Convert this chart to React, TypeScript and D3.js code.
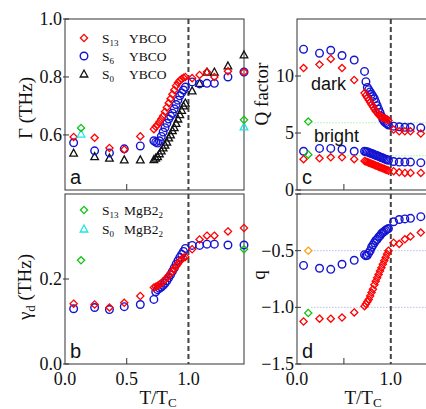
import React from "react"
import * as d3 from "d3"

// temperature grids (T/Tc)
const tLow = [0.07, 0.24, 0.36, 0.48, 0.61]
const tDense = [0.72, 0.735, 0.75, 0.765, 0.78, 0.795, 0.81, 0.825, 0.84, 0.855, 0.87, 0.885, 0.9, 0.915, 0.93, 0.945, 0.96, 0.975]
const tHigh = [1.03, 1.09, 1.15, 1.21, 1.32, 1.45]
const tMgLow = 0.13
const tMgHigh = 1.45

// panel a: Gamma (THz)
const gamS13 = [0.593, 0.59, 0.555, 0.55, 0.595,
  0.62, 0.628, 0.635, 0.645, 0.655, 0.665, 0.68, 0.695, 0.71, 0.725, 0.74, 0.755, 0.77, 0.78, 0.788, 0.793, 0.797, 0.8,
  0.796, 0.807, 0.817, 0.8, 0.82, 0.817]
const gamS6 = [0.573, 0.545, 0.538, 0.552, 0.562,
  0.58, 0.575, 0.572, 0.58, 0.595, 0.61, 0.625, 0.64, 0.655, 0.665, 0.675, 0.69, 0.705, 0.72, 0.735, 0.745, 0.755, 0.765,
  0.783, 0.776, 0.778, 0.778, 0.8, 0.817]
const gamS0 = [0.537, 0.525, 0.52, 0.514, 0.514,
  0.515, 0.52, 0.525, 0.535, 0.545, 0.555, 0.565, 0.575, 0.59, 0.6, 0.615, 0.625, 0.64, 0.655, 0.67, 0.685, 0.7, 0.71,
  0.752, 0.778, 0.817, 0.817, 0.838, 0.876]
const gamMgS13 = [0.624, 0.652]
const gamMgS0 = [0.603, 0.628]

// panel b: gamma_d (THz)
const gdS13 = [0.142, 0.14, 0.133, 0.144, 0.16,
  0.18, 0.182, 0.184, 0.187, 0.19, 0.194, 0.198, 0.203, 0.208, 0.213, 0.218, 0.224, 0.23, 0.236, 0.242, 0.247, 0.25, 0.252,
  0.27, 0.293, 0.302, 0.302, 0.312, 0.32]
const gdS6 = [0.13, 0.133, 0.128, 0.135, 0.14,
  0.152, 0.17, 0.175, 0.178, 0.181, 0.185, 0.19, 0.196, 0.203, 0.21, 0.218, 0.226, 0.235, 0.243, 0.251, 0.258, 0.265, 0.272,
  0.279, 0.279, 0.282, 0.282, 0.28, 0.28]
const gdMgS13 = [0.244, 0.27]

// panel c: Q factor
const qDarkS6 = [12.35, 12.0, 12.26, 11.8, 11.4,
  10.4, 9.5, 9.0, 8.8, 8.6, 8.4, 8.2, 8.0, 7.7, 7.4, 7.1, 6.8, 6.5, 6.2, 6.0, 5.9, 5.8, 5.7,
  5.6, 5.55, 5.5, 5.5, 5.45, 5.4]
const qDarkS13 = [10.7, 11.0, 11.5, 10.7, 9.65,
  8.5, 8.3, 8.1, 7.9, 7.7, 7.5, 7.3, 7.1, 6.9, 6.8, 6.6, 6.5, 6.4, 6.35, 6.3, 6.25, 6.2, 6.1,
  5.3, 5.15, 5.15, 5.15, 4.95, 4.9]
const qBrightS6 = [3.4, 3.65, 3.65, 3.57, 3.4,
  3.4, 3.35, 3.35, 3.3, 3.25, 3.2, 3.15, 3.1, 3.05, 3.0, 2.95, 2.9, 2.85, 2.8, 2.75, 2.7, 2.65, 2.6,
  2.5, 2.45, 2.45, 2.45, 2.4, 2.4]
const qBrightS13 = [2.7, 2.78, 2.87, 2.87, 2.7,
  2.55, 2.5, 2.45, 2.4, 2.35, 2.3, 2.25, 2.2, 2.15, 2.1, 2.05, 2.0, 1.95, 1.9, 1.85, 1.8, 1.75, 1.7,
  1.65, 1.55, 1.5, 1.5, 1.5, 1.5]
const qMg = [6.0, 3.1]
const qRefLines = [5.9, 3.0]

// panel d: Fano q
const fanoS6 = [-0.63, -0.655, -0.665, -0.62, -0.585,
  -0.535, -0.545, -0.54, -0.52, -0.5, -0.47, -0.45, -0.43, -0.41, -0.4, -0.38, -0.37, -0.35, -0.34, -0.33, -0.32, -0.31, -0.305,
  -0.245, -0.225, -0.22, -0.215, -0.2, -0.19]
const fanoS13 = [-1.125, -1.1, -1.1, -1.09, -1.045,
  -0.99, -0.97, -0.95, -0.93, -0.9, -0.87, -0.84, -0.8, -0.77, -0.74, -0.71, -0.68, -0.65, -0.62, -0.59, -0.56, -0.53, -0.5,
  -0.43, -0.44, -0.4, -0.375, -0.34, -0.32]
const fanoOrange = -0.5
const fanoGreen = -1.05
const fanoRefLines = [-0.5, -1.0]

const tAll = [...tLow, ...tDense, ...tHigh]

const RED = "#f00"
const BLUE = "#1414d2"
const BLACK = "#111"
const GREEN = "#13c313"
const CYAN = "#19e6e6"
const ORANGE = "#ffa31a"
const FRAME = "#333"
const serif = "'Liberation Serif', 'DejaVu Serif', serif"
const sans = "'Liberation Sans', Arial, sans-serif"

const diamondPath = "M0,-3.6L3.6,0L0,3.6L-3.6,0Z"
const trianglePath = "M0,-4L3.8,3L-3.8,3Z"

type Shape = "diamond" | "circle" | "triangle"

const Marker = ({ x, y, shape, color }: { x: number; y: number; shape: Shape; color: string }) => {
  if (shape === "circle")
    return <circle cx={x} cy={y} r={3.8} fill="none" stroke={color} strokeWidth={1.4} />
  return <path d={shape === "diamond" ? diamondPath : trianglePath} transform={`translate(${x},${y})`}
    fill="none" stroke={color} strokeWidth={1.3} />
}

const Series = ({ ts, vs, x, y, shape, color }: any) => (
  <g>
    {vs.map((v: number, i: number) => <Marker key={i} x={x(ts[i])} y={y(v)} shape={shape} color={color} />)}
  </g>
)

const Frame = ({ x, y, yTicks, yLabels, yFmt, xLabels, letter }: any) => {
  const [x0, x1] = x.range()
  const [y0, y1] = y.range()
  return (
    <g>
      <rect x={x0} y={y1} width={x1 - x0} height={y0 - y1} fill="none" stroke={FRAME} strokeWidth={1} />
      {yTicks.map((v: number) => (
        <line key={v} x1={x0 - 2} x2={x0 + 4} y1={y(v)} y2={y(v)} stroke={FRAME} />
      ))}
      {yLabels.map((v: number) => (
        <text key={v} x={x0 - 3} y={y(v)} dy="0.33em" textAnchor="end" fontFamily={serif} fontSize={18} fill="#111">{yFmt(v)}</text>
      ))}
      {[0.5].map(v => <line key={v} x1={x(v)} x2={x(v)} y1={y0} y2={y0 - 6} stroke={FRAME} />)}
      {xLabels.map((v: number) => (
        <text key={v} x={x(v)} y={y0 + 21} textAnchor="middle" fontFamily={serif} fontSize={18} fill="#111">{v.toFixed(1)}</text>
      ))}
      <line x1={x(1)} x2={x(1)} y1={y1} y2={y0} stroke="#444" strokeWidth={2} strokeDasharray="5,3" />
      <text x={x0 + 5} y={y0 - 6} fontFamily={sans} fontSize={20} fill="#111">{letter}</text>
    </g>
  )
}

const App = () => {
  const W = 426, H = 409
  const xL = d3.scaleLinear().domain([0, 1.45]).range([65, 244])
  const xR = d3.scaleLinear().domain([0, 1.45]).range([297, 433])
  const yA = d3.scaleLinear().domain([0.41, 1.0]).range([190, 19])
  const yB = d3.scaleLinear().domain([0, 0.4]).range([364, 194])
  const yC = d3.scaleLinear().domain([0, 15]).range([190, 19])
  const yD = d3.scaleLinear().domain([-1.5, 0]).range([364, 194])
  const f1 = d3.format(".1f")
  const f0 = d3.format("d")

  const legA = [
    { shape: "diamond", color: RED, sub: "13" },
    { shape: "circle", color: BLUE, sub: "6" },
    { shape: "triangle", color: BLACK, sub: "0" },
  ]
  const legB = [
    { shape: "diamond", color: GREEN, sub: "13" },
    { shape: "triangle", color: CYAN, sub: "0" },
  ]

  return (
    <svg width={W} height={H} style={{ position: "absolute", left: 0, top: 0, background: "#fff" }}>
      <defs>
        <clipPath id="clipR"><rect x={0} y={0} width={W} height={H} /></clipPath>
      </defs>

      {/* panel a */}
      <Frame x={xL} y={yA} yTicks={[0.6, 0.8, 1.0]} yLabels={[0.6, 0.8, 1.0]} yFmt={f1} xLabels={[]} letter="a" />
      <Series ts={tAll} vs={gamS0} x={xL} y={yA} shape="triangle" color={BLACK} />
      <Series ts={tAll} vs={gamS6} x={xL} y={yA} shape="circle" color={BLUE} />
      <Series ts={tAll} vs={gamS13} x={xL} y={yA} shape="diamond" color={RED} />
      <Series ts={[tMgLow, tMgHigh]} vs={gamMgS0} x={xL} y={yA} shape="triangle" color={CYAN} />
      <Series ts={[tMgLow, tMgHigh]} vs={gamMgS13} x={xL} y={yA} shape="diamond" color={GREEN} />
      {legA.map((d, i) => (
        <g key={i} transform={`translate(0,${38 + i * 18})`}>
          <Marker x={84} y={0} shape={d.shape as Shape} color={d.color} />
          <text x={102} y={4.5} fontFamily={serif} fontSize={13.5} fill="#111">S<tspan fontSize={9} dy={3}>{d.sub}</tspan></text>
          <text x={129} y={4.5} fontFamily={serif} fontSize={13.5} fill="#111">YBCO</text>
        </g>
      ))}

      {/* panel b */}
      <Frame x={xL} y={yB} yTicks={[0, 0.2]} yLabels={[0, 0.2]} yFmt={f1} xLabels={[0, 0.5, 1.0]} letter="b" />
      <Series ts={tAll} vs={gdS6} x={xL} y={yB} shape="circle" color={BLUE} />
      <Series ts={tAll} vs={gdS13} x={xL} y={yB} shape="diamond" color={RED} />
      <Series ts={[tMgLow, tMgHigh]} vs={gdMgS13} x={xL} y={yB} shape="diamond" color={GREEN} />
      {legB.map((d, i) => (
        <g key={i} transform={`translate(0,${210 + i * 19})`}>
          <Marker x={84} y={0} shape={d.shape as Shape} color={d.color} />
          <text x={102} y={4.5} fontFamily={serif} fontSize={13.5} fill="#111">S<tspan fontSize={9} dy={3}>{d.sub}</tspan></text>
          <text x={124} y={4.5} fontFamily={serif} fontSize={13.5} fill="#111">MgB2<tspan fontSize={9} dy={3}>2</tspan></text>
        </g>
      ))}

      {/* panel c */}
      <g clipPath="url(#clipR)">
        {qRefLines.map(v => (
          <line key={v} x1={xR(0.12)} x2={xR(1.45)} y1={yC(v)} y2={yC(v)} stroke="#9be89b" strokeWidth={0.8} strokeDasharray="1.5,1.5" />
        ))}
        <Frame x={xR} y={yC} yTicks={[0, 5, 10]} yLabels={[0, 5, 10]} yFmt={f0} xLabels={[]} letter="c" />
        <Series ts={tAll} vs={qDarkS6} x={xR} y={yC} shape="circle" color={BLUE} />
        <Series ts={tAll} vs={qDarkS13} x={xR} y={yC} shape="diamond" color={RED} />
        <Series ts={tAll} vs={qBrightS6} x={xR} y={yC} shape="circle" color={BLUE} />
        <Series ts={tAll} vs={qBrightS13} x={xR} y={yC} shape="diamond" color={RED} />
        <Series ts={[0.12, 0.12]} vs={qMg} x={xR} y={yC} shape="diamond" color={GREEN} />
        <text x={311} y={90} fontFamily={sans} fontSize={18} fill="#111">dark</text>
        <text x={314} y={142} fontFamily={sans} fontSize={18} fill="#111">bright</text>
      </g>

      {/* panel d */}
      <g clipPath="url(#clipR)">
        {fanoRefLines.map(v => (
          <line key={v} x1={xR(0.15)} x2={xR(1.45)} y1={yD(v)} y2={yD(v)} stroke="#a8a8f0" strokeWidth={0.8} strokeDasharray="1.5,1.5" />
        ))}
        <Frame x={xR} y={yD} yTicks={[-1.5, -1.0, -0.5, 0]} yLabels={[-1.5, -1.0, -0.5]} yFmt={f1} xLabels={[0, 1.0]} letter="d" />
        <Series ts={tAll} vs={fanoS6} x={xR} y={yD} shape="circle" color={BLUE} />
        <Series ts={tAll} vs={fanoS13} x={xR} y={yD} shape="diamond" color={RED} />
        <Series ts={[0.12]} vs={[fanoOrange]} x={xR} y={yD} shape="diamond" color={ORANGE} />
        <Series ts={[0.12]} vs={[fanoGreen]} x={xR} y={yD} shape="diamond" color={GREEN} />
      </g>

      {/* axis titles */}
      <text transform="translate(32,108) rotate(-90)" textAnchor="middle" fontFamily={serif} fontSize={19} fill="#111">Γ (THz)</text>
      <text transform="translate(31,287) rotate(-90)" textAnchor="middle" fontFamily={serif} fontSize={19} fill="#111">
        γ<tspan fontSize={13} dy={4}>d</tspan><tspan dy={-4}> (THz)</tspan>
      </text>
      <text transform="translate(268,94) rotate(-90)" textAnchor="middle" fontFamily={serif} fontSize={19} fill="#111">Q factor</text>
      <text transform="translate(265,275) rotate(-90)" textAnchor="middle" fontFamily={serif} fontSize={19} fill="#111">q</text>
      <text x={158} y={404} textAnchor="middle" fontFamily={serif} fontSize={19} fill="#111">T/T<tspan fontSize={13} dy={3}>C</tspan></text>
      <text x={363} y={404} textAnchor="middle" fontFamily={serif} fontSize={19} fill="#111">T/T<tspan fontSize={13} dy={3}>C</tspan></text>
    </svg>
  )
}

export default App
